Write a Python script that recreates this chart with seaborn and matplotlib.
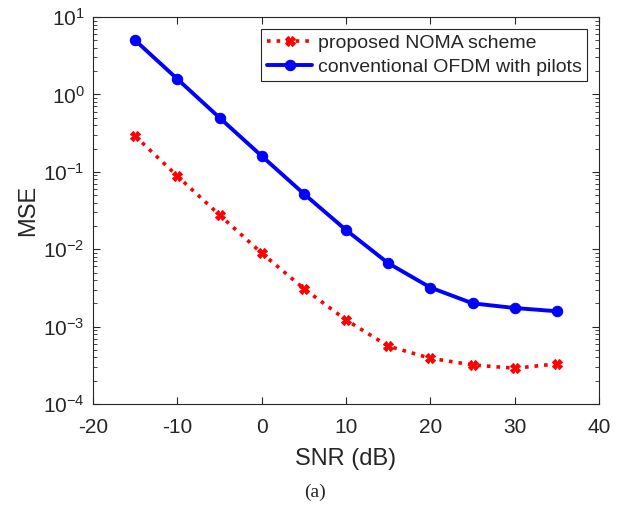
import matplotlib
matplotlib.use("Agg")
import matplotlib.pyplot as plt
import seaborn as sns
import pandas as pd
import numpy as np
from matplotlib.ticker import LogLocator, NullFormatter, MultipleLocator

snr = [-15, -10, -5, 0, 5, 10, 15, 20, 25, 30, 35]
mse_noma = [0.29, 0.088, 0.0277, 0.0089, 0.0031, 0.00122, 0.00056, 0.00039, 0.00032, 0.00029, 0.00033]
mse_ofdm = [5.0, 1.58, 0.50, 0.16, 0.052, 0.0177, 0.0066, 0.0032, 0.0020, 0.00174, 0.00158]
labels = ["proposed NOMA scheme", "conventional OFDM with pilots"]

sns.set_style("ticks")
plt.rcParams['font.family'] = ['Liberation Sans', 'DejaVu Sans']
plt.rcParams['mathtext.fontset'] = 'custom'
plt.rcParams['mathtext.rm'] = 'Liberation Sans'
plt.rcParams['mathtext.it'] = 'Liberation Sans'
plt.rcParams['axes.unicode_minus'] = False

fig = plt.figure(figsize=(6.26, 5.16), dpi=100)
ax = fig.add_axes([0.1486, 0.217, 0.8084, 0.750])

df1 = pd.DataFrame({"snr": snr, "mse": mse_noma})
df2 = pd.DataFrame({"snr": snr, "mse": mse_ofdm})

sns.lineplot(data=df1, x="snr", y="mse", ax=ax, color="#ff0000", linestyle=":",
             linewidth=2.6, marker="X", markersize=7, markeredgewidth=0.8,
             markeredgecolor="#ff0000", label=labels[0])
sns.lineplot(data=df2, x="snr", y="mse", ax=ax, color="#0000ff", linestyle="-",
             linewidth=2.8, marker="o", markersize=7.5, markeredgecolor="#0000ff",
             label=labels[1])

ax.set_yscale("log")
ax.set_xlim(-20, 40)
ax.set_ylim(1e-4, 1e1)
ax.xaxis.set_major_locator(MultipleLocator(10))
ax.yaxis.set_major_locator(LogLocator(base=10, numticks=10))
ax.yaxis.set_minor_locator(LogLocator(base=10, subs=np.arange(2, 10), numticks=20))
ax.yaxis.set_minor_formatter(NullFormatter())

for s in ax.spines.values():
    s.set_visible(True)
    s.set_color("#262626")
    s.set_linewidth(0.8)
ax.tick_params(which="both", direction="in", top=True, right=True, colors="#262626",
               labelcolor="#262626", labelsize=15)
ax.tick_params(axis="x", which="major", pad=10)
ax.tick_params(axis="y", which="major", pad=6)
ax.tick_params(which="major", length=5)
ax.tick_params(which="minor", length=3)

ax.set_xlabel("SNR (dB)", fontsize=17, color="#262626", labelpad=8)
ax.set_ylabel("MSE", fontsize=17, color="#262626", labelpad=3)

leg = ax.legend(loc="upper right", fontsize=14, frameon=True, fancybox=False,
                edgecolor="#262626", framealpha=1, borderaxespad=0.6,
                handlelength=2.3, borderpad=0.3, labelspacing=0.3, handletextpad=0.3)
leg.get_frame().set_linewidth(0.8)

fig.text(0.503, 0.045, "(a)", fontsize=14, family=["Liberation Serif", "DejaVu Serif"],
         ha="center", va="center")

fig.savefig("out.png", dpi=100)
